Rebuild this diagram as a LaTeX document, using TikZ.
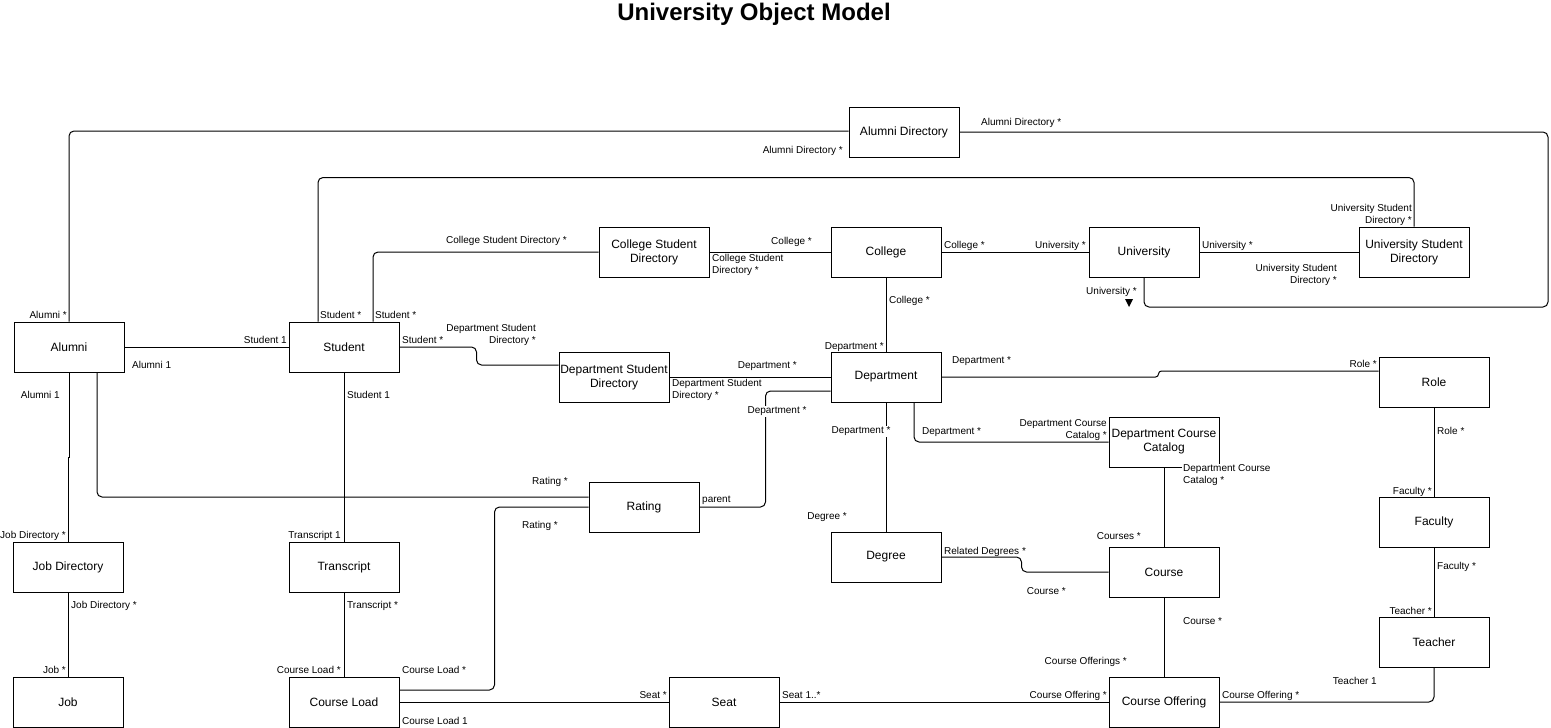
\documentclass[tikz,border=0pt]{standalone}
\usepackage{fontspec}
\setmainfont{Liberation Sans}
\begin{document}
\begin{tikzpicture}[x=1pt,y=-1pt,
  box/.style={draw, line width=1pt, minimum width=110pt, minimum height=50pt, inner sep=0pt, align=center, font=\fontsize{12}{14}\selectfont},
  conn/.style={line width=1pt, rounded corners=5pt},
  lb/.style={inner sep=0pt, yshift=-1.5pt, font=\fontsize{10}{12}\selectfont},
  lbw/.style={lb, fill=white, inner sep=1pt}]
\useasboundingbox (0,0) rectangle (1551,728);
\node[font=\bfseries\fontsize{24}{28}\selectfont] (title) at (754,14) {University Object Model};
% boxes
\node[box] (alumdir) at (904,132) {Alumni Directory};
\node[box] (csd) at (654,252) {College Student\\Directory};
\node[box] (college) at (886,252) {College};
\node[box] (univ) at (1144,252) {University};
\node[box] (usd) at (1414,252) {University Student\\Directory};
\node[box] (alumni) at (69,347) {Alumni};
\node[box] (student) at (344,347) {Student};
\node[box] (dsd) at (614,377) {Department Student\\Directory};
\node[box] (dept) at (886,377) {Department};
\node[box] (role) at (1434,382) {Role};
\node[box] (dcc) at (1164,442) {Department Course\\Catalog};
\node[box] (rating) at (644,507) {Rating};
\node[box] (faculty) at (1434,522) {Faculty};
\node[box] (jobdir) at (68,567) {Job Directory};
\node[box] (transcript) at (344,567) {Transcript};
\node[box] (degree) at (886,557) {Degree};
\node[box] (course) at (1164,572) {Course};
\node[box] (teacher) at (1434,642) {Teacher};
\node[box] (job) at (68,702) {Job};
\node[box] (cload) at (344,702) {Course Load};
\node[box] (seat) at (724,702) {Seat};
\node[box] (coff) at (1164,702) {Course Offering};
% connectors
\coordinate (rt) at (1548,307);
\draw[conn] (alumni.north) |- ([yshift=1pt]alumdir.west);
\draw[conn] (alumdir.east) -| (rt) -| (univ.south);
\draw[conn] ([xshift=-26pt]student.north) |- ([yshift=49pt]usd.north) -- (usd.north);
\draw[conn] ([xshift=29pt]student.north) |- (csd.west);
\draw[conn] (student.east) -- ++(77,0) |- ([yshift=12pt]dsd.west);
\draw[conn] (csd.east) -- (college.west);
\draw[conn] (college.east) -- (univ.west);
\draw[conn] (univ.east) -- (usd.west);
\draw[conn] (college.south) -- (dept.north);
\draw[conn] (dsd.east) -- (dept.west);
\draw[conn] ([yshift=-14pt]dept.west) -- ++(-65,0) |- (rating.east);
\draw[conn] (alumni.east) -- (student.west);
\draw[line width=1pt] (alumni.south) -- ++(0,85) -- ++(-1,0) -- (jobdir.north);
\draw[conn] ([xshift=28pt]alumni.south) |- ([yshift=10pt]rating.west);
\draw[conn] ([yshift=12pt]cload.east) -- ++(95,0) |- (rating.west);
\draw[conn] (student.south) -- (transcript.north);
\draw[conn] (transcript.south) -- (cload.north);
\draw[conn] (jobdir.south) -- (job.north);
\draw[conn] (cload.east) -- (seat.west);
\draw[conn] (seat.east) -- (coff.west);
\draw[conn] (course.south) -- (coff.north);
\draw[conn] (dcc.south) -- (course.north);
\draw[conn] (degree.east) -- ++(80,0) |- (course.west);
\draw[conn] (dept.south) -- (degree.north);
\draw[conn] ([xshift=28pt]dept.south) |- (dcc.west);
\draw[conn, rounded corners=3pt] (dept.east) -- ++(217,0) |- ([yshift=11pt]role.west);
\draw[conn] (role.south) -- (faculty.north);
\draw[conn] (faculty.south) -- (teacher.north);
\draw[conn] (teacher.south) |- (coff.east);
\fill (1125,299) -- (1133,299) -- (1129,307) -- cycle;
% labels
\node[lb, anchor=mid east] (l1) at (67,314) {Alumni *};
\node[lb, anchor=mid east] (l2) at (843,149) {Alumni Directory *};
\node[lb, anchor=mid west] (l3) at (981,121) {Alumni Directory *};
\node[lb, anchor=mid east] (l4) at (1137,290) {University *};
\node[lb, anchor=mid west] (l5) at (320,314) {Student *};
\node[lb, anchor=east, align=right] (l6) at (1412,213) {University Student\\Directory *};
\node[lb, anchor=mid west] (l7) at (375,314) {Student *};
\node[lb, anchor=mid east] (l8) at (567,239) {College Student Directory *};
\node[lb, anchor=mid west] (l9) at (402,339) {Student *};
\node[lb, anchor=east, align=right] (l10) at (536,333) {Department Student\\Directory *};
\node[lbw, anchor=west, align=left] (l11) at (711,263) {College Student\\Directory *};
\node[lb, anchor=mid east] (l12) at (812,240) {College *};
\node[lb, anchor=mid west] (l13) at (944,244) {College *};
\node[lb, anchor=mid east] (l14) at (1086,244) {University *};
\node[lb, anchor=mid west] (l15) at (1202,244) {University *};
\node[lb, anchor=east, align=right] (l16) at (1337,273) {University Student\\Directory *};
\node[lb, anchor=mid west] (l17) at (889,299) {College *};
\node[lb, anchor=mid east] (l18) at (884,345) {Department *};
\node[lbw, anchor=west, align=left] (l19) at (671,388) {Department Student\\Directory *};
\node[lb, anchor=mid east] (l20) at (797,364) {Department *};
\node[lbw] (l21) at (777,410) {Department *};
\node[lb, anchor=mid west] (l22) at (702,498) {parent};
\node[lb, anchor=mid east] (l23) at (287,339) {Student 1};
\node[lb, anchor=mid west] (l24) at (132,364) {Alumni 1};
\node[lb, anchor=mid east] (l25) at (60,394) {Alumni 1};
\node[lb, anchor=mid east] (l26) at (66,534) {Job Directory *};
\node[lb, anchor=mid east] (l27) at (568,480) {Rating *};
\node[lb, anchor=mid west] (l28) at (522,524) {Rating *};
\node[lb, anchor=mid west] (l29) at (402,669) {Course Load *};
\node[lb, anchor=mid west] (l30) at (347,394) {Student 1};
\node[lb, anchor=mid east] (l31) at (341,534) {Transcript 1};
\node[lb, anchor=mid west] (l32) at (347,604) {Transcript *};
\node[lb, anchor=mid east] (l33) at (341,669) {Course Load *};
\node[lb, anchor=mid west] (l34) at (71,604) {Job Directory *};
\node[lb, anchor=mid east] (l35) at (66,669) {Job *};
\node[lb, anchor=mid west] (l36) at (402,720) {Course Load 1};
\node[lb, anchor=mid east] (l37) at (667,694) {Seat *};
\node[lb, anchor=mid west] (l38) at (782,694) {Seat 1..*};
\node[lb, anchor=mid east] (l39) at (1107,694) {Course Offering *};
\node[lb, anchor=mid west] (l40) at (1183,620) {Course *};
\node[lb, anchor=mid east] (l41) at (1127,660) {Course Offerings *};
\node[lbw, anchor=west, align=left] (l42) at (1182,474) {Department Course\\Catalog *};
\node[lb, anchor=mid east] (l43) at (1141,535) {Courses *};
\node[lb, anchor=mid west] (l44) at (944,550) {Related Degrees *};
\node[lb, anchor=mid east] (l45) at (1066,590) {Course *};
\node[lbw] (l46) at (861,430) {Department *};
\node[lb, anchor=mid east] (l47) at (847,515) {Degree *};
\node[lb, anchor=mid west] (l48) at (922,430) {Department *};
\node[lb, anchor=east, align=right] (l49) at (1107,429) {Department Course\\Catalog *};
\node[lb, anchor=mid west] (l50) at (952,359) {Department *};
\node[lb, anchor=mid east] (l51) at (1377,363) {Role *};
\node[lb, anchor=mid west] (l52) at (1437,430) {Role *};
\node[lb, anchor=mid east] (l53) at (1432,490) {Faculty *};
\node[lb, anchor=mid west] (l54) at (1437,565) {Faculty *};
\node[lb, anchor=mid east] (l55) at (1432,610) {Teacher *};
\node[lb, anchor=mid east] (l56) at (1377,680) {Teacher 1};
\node[lb, anchor=mid west] (l57) at (1222,694) {Course Offering *};
\end{tikzpicture}
\end{document}
